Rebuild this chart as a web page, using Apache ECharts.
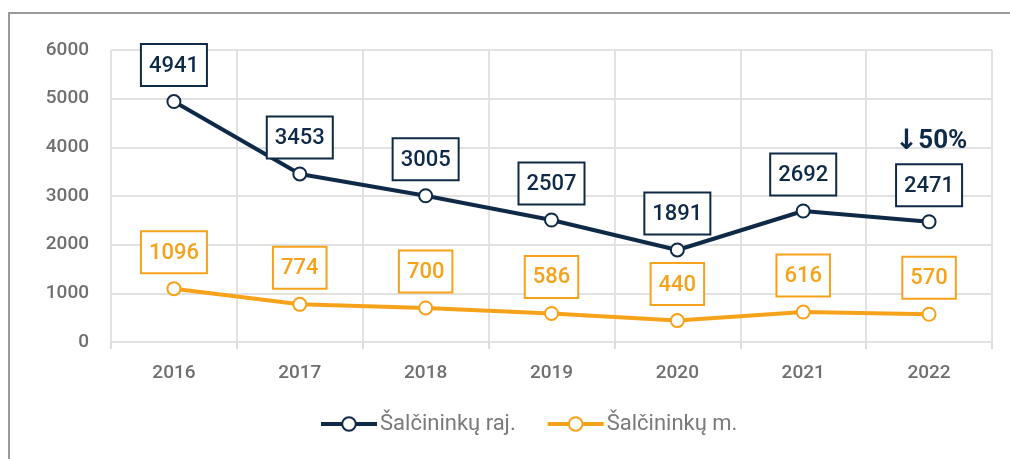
<!DOCTYPE html>
<html>
<head>
<meta charset="utf-8">
<script src="https://cdn.jsdelivr.net/npm/echarts@6/dist/echarts.min.js"></script>
<style>
  html, body { margin: 0; padding: 0; background: #fff; overflow: hidden; }
  #frame { position: absolute; left: 8px; top: 12px; width: 1002px; height: 447px;
           border-top: 2px solid #9a9a9a; border-left: 2px solid #9a9a9a; box-sizing: border-box; }
  #main { position: absolute; left: 0; top: 0; width: 1010px; height: 459px; }
</style>
</head>
<body>
<div id="frame"></div>
<div id="main"></div>
<script>
var years = ['2016', '2017', '2018', '2019', '2020', '2021', '2022'];
var rajValues = [4941, 3453, 3005, 2507, 1891, 2692, 2471];
var miestasValues = [1096, 774, 700, 586, 440, 616, 570];
var yTicks = [0, 1000, 2000, 3000, 4000, 5000, 6000];
var changeArrow = '↓';
var changeNote = '50%';

var NAVY = '#0f2a47';
var ORANGE = '#f7a21b';
var FONT = 'Roboto, sans-serif';

function boxLabel(color) {
    return {
        show: true,
        position: 'top',
        distance: 9,
        color: color,
        fontFamily: FONT,
        fontWeight: 500,
        fontSize: 22,
        lineHeight: 22,
        backgroundColor: '#fff',
        borderColor: color,
        borderWidth: 2,
        padding: [10, 7, 8, 7]
    };
}

var chart = echarts.init(document.getElementById('main'));
chart.setOption({
    animation: false,
    grid: { left: 111, right: 18, top: 50, bottom: 117 },
    xAxis: {
        type: 'category',
        data: years,
        boundaryGap: true,
        axisLine: { show: false },
        axisTick: { show: true, length: 7, lineStyle: { color: '#dcdcdc', width: 2 } },
        splitLine: { show: true, lineStyle: { color: '#e2e2e2', width: 2 } },
        axisLabel: { color: '#6f6f6f', fontFamily: FONT, fontWeight: 500, fontSize: 19, margin: 22 }
    },
    yAxis: {
        type: 'value',
        min: yTicks[0],
        max: yTicks[yTicks.length - 1],
        interval: 1000,
        axisLine: { show: false },
        axisTick: { show: false },
        splitLine: { lineStyle: { color: '#e2e2e2', width: 2 } },
        axisLabel: {
            color: '#6f6f6f', fontFamily: FONT, fontWeight: 500, fontSize: 19, margin: 22,
            formatter: function (v) { return String(v); }
        }
    },
    legend: {
        bottom: 19,
        left: 314,
        itemWidth: 56,
        itemHeight: 17,
        itemGap: 30,
        lineStyle: { width: 4 },
        textStyle: { color: '#7a7a7a', fontFamily: FONT, fontSize: 22, padding: [0, 0, 0, -2] },
        data: ['Šalčininkų raj.', 'Šalčininkų m.']
    },
    series: [
        {
            name: 'Šalčininkų raj.',
            type: 'line',
            data: rajValues,
            symbol: 'circle',
            symbolSize: 13,
            itemStyle: { color: '#fff', borderColor: NAVY, borderWidth: 2 },
            lineStyle: { color: NAVY, width: 4 },
            label: boxLabel(NAVY),
            markPoint: {
                symbol: 'circle',
                symbolSize: 1,
                itemStyle: { color: 'rgba(0,0,0,0)' },
                label: {
                    show: true,
                    position: 'inside',
                    formatter: '{a|' + changeArrow + '}{b|' + changeNote + '}',
                    offset: [2, -80],
                    rich: {
                        a: { color: NAVY, fontFamily: 'DejaVu Sans', fontWeight: 'bold', fontSize: 28 },
                        b: { color: NAVY, fontFamily: FONT, fontWeight: 'bold', fontSize: 26 }
                    }
                },
                data: [{ coord: [years[6], rajValues[6]], value: changeNote }]
            }
        },
        {
            name: 'Šalčininkų m.',
            type: 'line',
            data: miestasValues,
            symbol: 'circle',
            symbolSize: 13,
            itemStyle: { color: '#fff', borderColor: ORANGE, borderWidth: 2 },
            lineStyle: { color: ORANGE, width: 4 },
            label: boxLabel(ORANGE)
        }
    ]
});
</script>
</body>
</html>
